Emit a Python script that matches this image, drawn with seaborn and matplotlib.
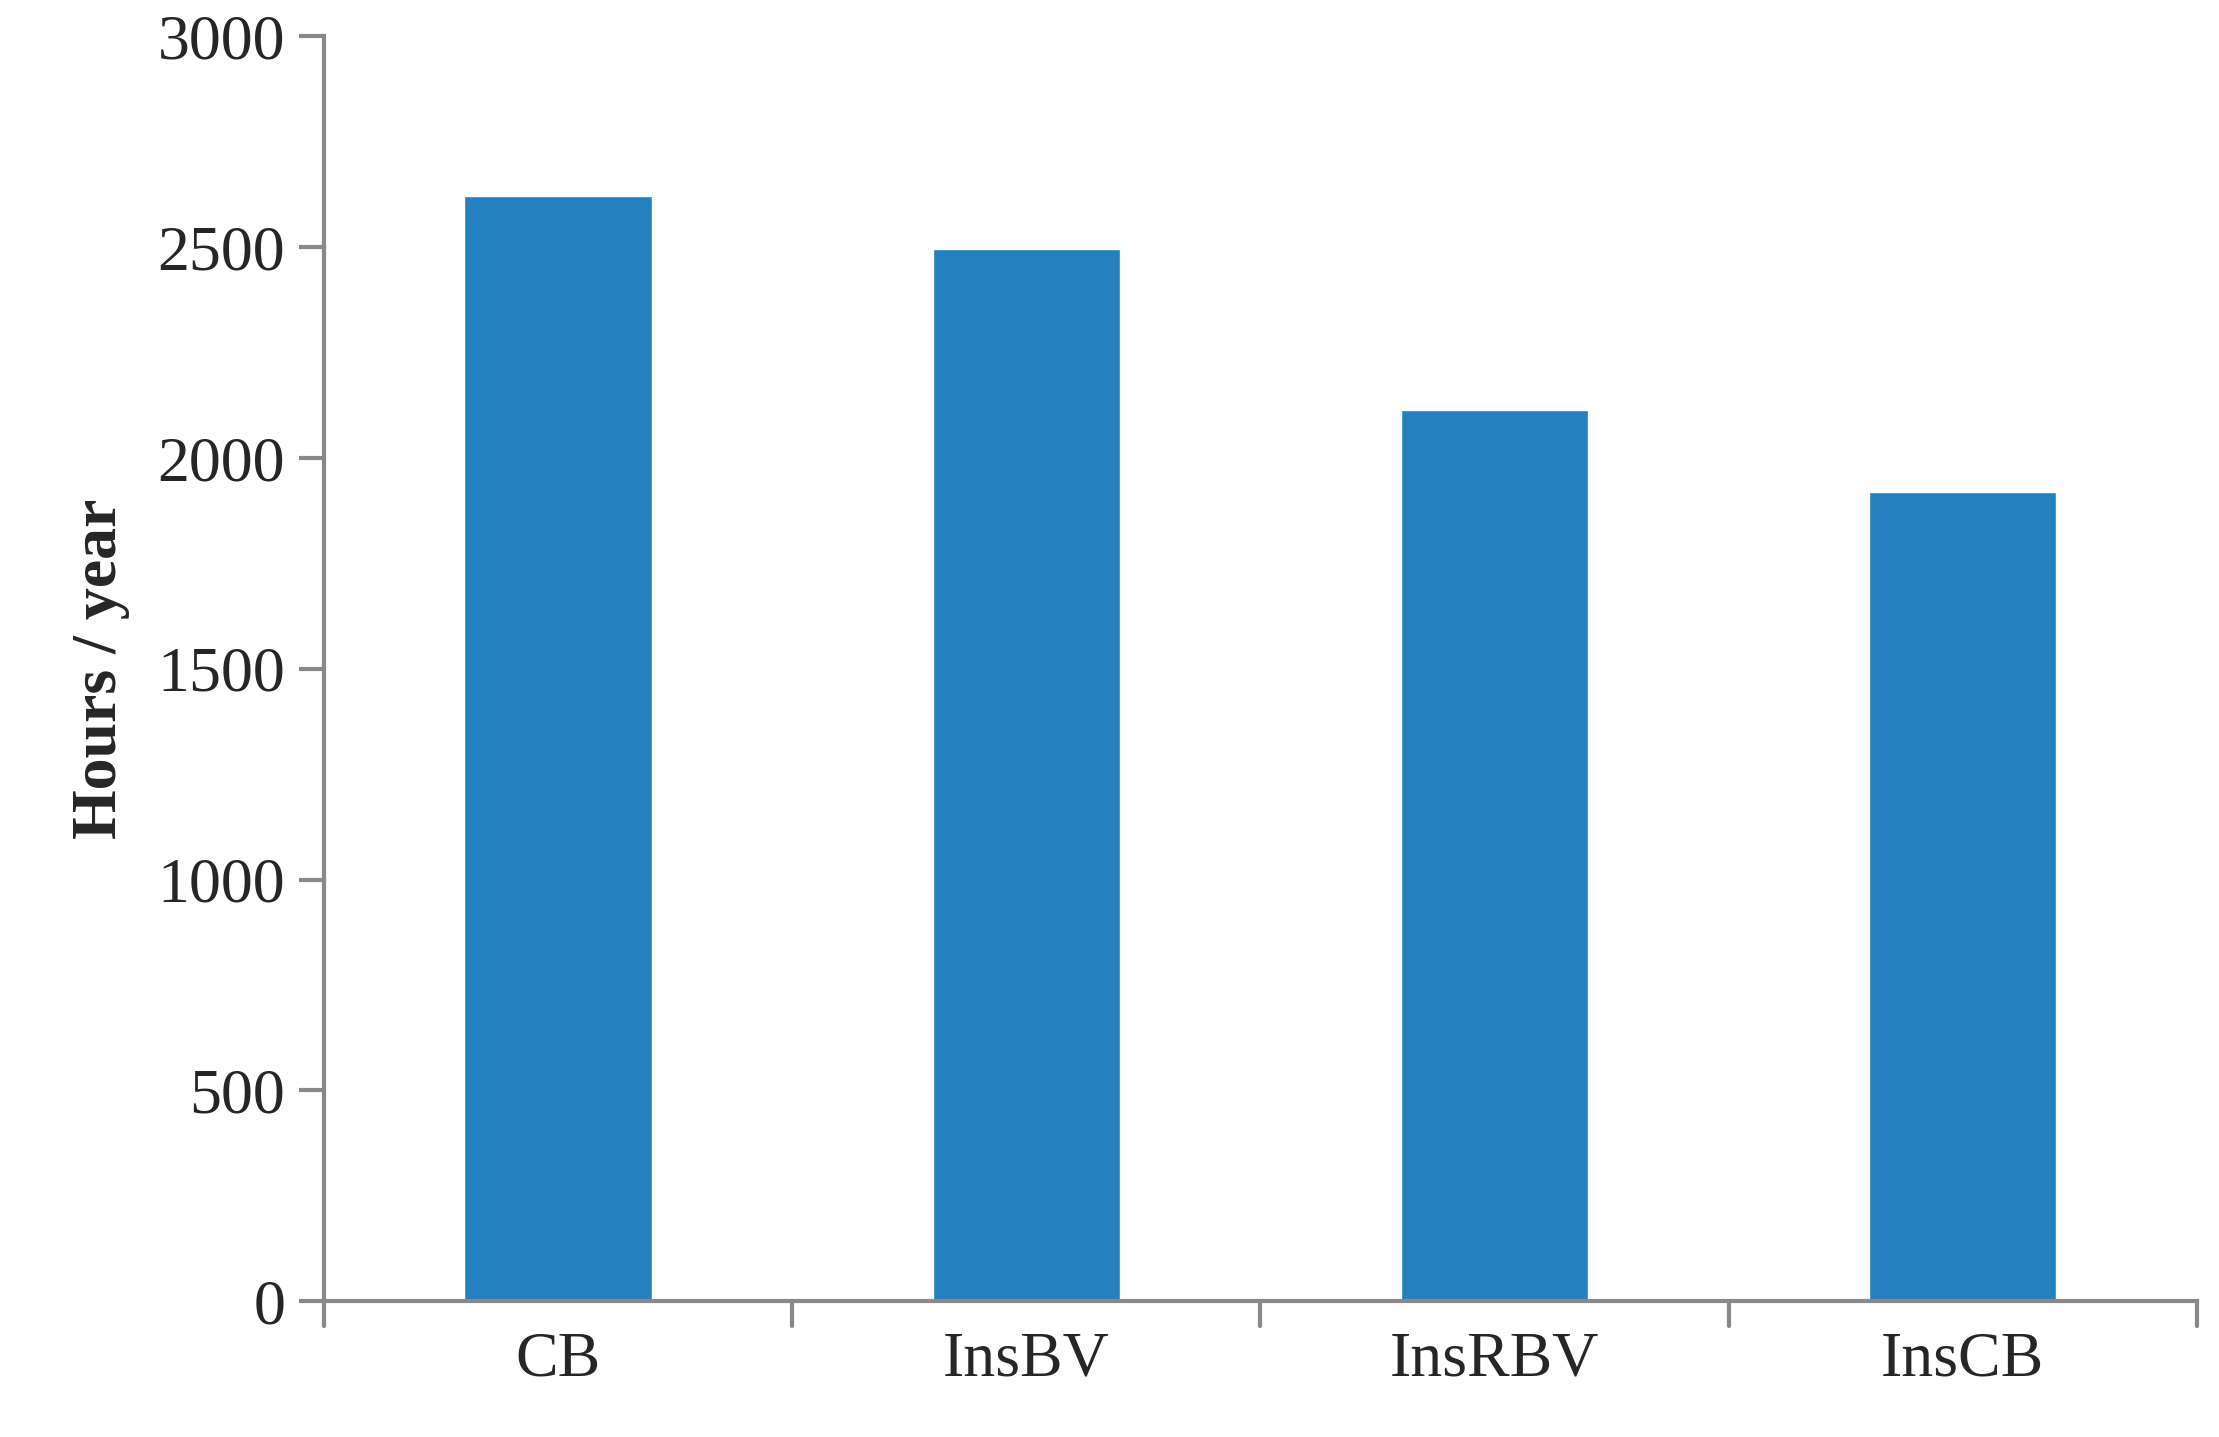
import matplotlib
matplotlib.use('Agg')
import matplotlib.pyplot as plt
import seaborn as sns
import pandas as pd

categories = ['CB', 'InsBV', 'InsRBV', 'InsCB']
hours = [2621, 2497, 2114, 1919]

sns.set_style('white')
plt.rcParams['font.family'] = ['Liberation Serif', 'DejaVu Serif']

df = pd.DataFrame({'Case': categories, 'Hours': hours})

fig = plt.figure(figsize=(22.19, 14.37), dpi=100)
ax = fig.add_axes([0.146, 0.0946, 0.844, 0.880])
sns.barplot(data=df, x='Case', y='Hours', color='#2580BF', width=0.4, saturation=1, ax=ax)

ax.set_ylim(0, 3000)
ax.set_xlim(-0.5, 3.5)
ax.set_yticks(range(0, 3001, 500))
ax.set_xlabel('')
ax.set_ylabel('Hours / year', fontsize=46, fontweight='bold', labelpad=20)
ax.tick_params(axis='y', labelsize=46, direction='out', length=18, width=3, color='#898989', pad=10, left=True)
ax.tick_params(axis='x', labelsize=46, length=0, pad=22)
for b in [0.5, 1.5, 2.5, 3.5, -0.5]:
    ax.plot([b, b], [0, -0.02], transform=ax.get_xaxis_transform(), clip_on=False,
            color='#898989', lw=3)

for s in ['top', 'right']:
    ax.spines[s].set_visible(False)
for s in ['left', 'bottom']:
    ax.spines[s].set_color('#898989')
    ax.spines[s].set_linewidth(3)

fig.savefig('out.png', dpi=100)
